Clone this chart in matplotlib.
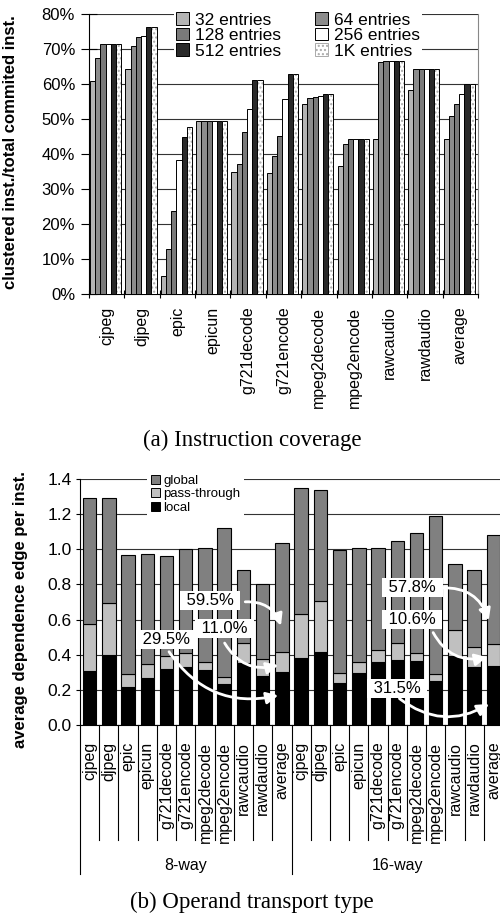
import numpy as np
import matplotlib
matplotlib.use('Agg')
import matplotlib.pyplot as plt
import matplotlib.transforms as mtransforms
from matplotlib.patches import Patch

plt.rcParams['font.family'] = ['Liberation Sans', 'DejaVu Sans']

# (a) instruction coverage, % of committed instructions
benchmarks = ['cjpeg', 'djpeg', 'epic', 'epicun', 'g721decode', 'g721encode',
              'mpeg2decode', 'mpeg2encode', 'rawcaudio', 'rawdaudio', 'average']
sizes = ['32 entries', '64 entries', '128 entries', '256 entries', '512 entries', '1K entries']
cov_32 = [61.0, 64.4, 5.2, 49.3, 35.0, 34.7, 54.2, 36.6, 44.2, 58.2, 44.2]
cov_64 = [67.3, 70.8, 12.8, 49.3, 37.2, 39.3, 55.9, 42.9, 66.4, 64.4, 50.8]
cov_128 = [71.5, 73.3, 23.8, 49.3, 46.4, 45.1, 56.3, 44.2, 66.7, 64.4, 54.3]
cov_256 = [71.5, 73.6, 38.2, 49.3, 53.0, 55.6, 56.7, 44.4, 66.7, 64.4, 57.2]
cov_512 = [71.5, 76.2, 44.9, 49.3, 61.1, 62.8, 57.2, 44.4, 66.7, 64.4, 60.0]
cov_1k = [71.5, 76.2, 47.8, 49.3, 61.1, 62.8, 57.2, 44.4, 66.7, 64.4, 60.0]

# (b) operand transport type, 8-way then 16-way
machines = ['8-way', '16-way']
local = [0.31, 0.40, 0.216, 0.268, 0.32, 0.328, 0.313, 0.231, 0.351, 0.281, 0.30,
         0.383, 0.416, 0.237, 0.294, 0.359, 0.370, 0.364, 0.250, 0.395, 0.332, 0.338]
local_pass = [0.575, 0.696, 0.288, 0.349, 0.39, 0.41, 0.36, 0.273, 0.469, 0.374, 0.416,
              0.630, 0.704, 0.294, 0.357, 0.429, 0.465, 0.408, 0.292, 0.541, 0.446, 0.459]
total = [1.294, 1.294, 0.970, 0.975, 0.964, 1.004, 1.009, 1.123, 0.882, 0.800, 1.034,
         1.351, 1.338, 0.996, 1.008, 1.008, 1.047, 1.091, 1.192, 0.918, 0.880, 1.084]
passthrough = np.array(local_pass) - np.array(local)
global_ = np.array(total) - np.array(local_pass)

# annotation: label, text pos, arrow start, arrow end, curvature
notes = [
    ('59.5%', (6.25, 0.711), (7.95, 0.70), (10.0, 0.55), -0.4),
    ('11.0%', (7.03, 0.552), (6.95, 0.48), (9.95, 0.345), 0.4),
    ('29.5%', (4.0, 0.484), (4.05, 0.43), (9.95, 0.172), 0.35),
    ('57.8%', (16.8, 0.785), (18.2, 0.78), (20.8, 0.58), -0.4),
    ('10.6%', (16.77, 0.603), (17.8, 0.54), (20.8, 0.39), 0.4),
    ('31.5%', (16.0, 0.21), (16.0, 0.16), (20.9, 0.128), 0.35),
]

fig = plt.figure(figsize=(5, 9.14), dpi=100)

# ---------------- (a) ----------------
ax1 = fig.add_axes([89/500, 1-294/914, 389/500, 280/914])
cov = [cov_32, cov_64, cov_128, cov_256, cov_512, cov_1k]
fills = ['#b4b4b4', '#8c8c8c', '#7a7a7a', 'white', '#2a2a2a', 'white']
x = np.arange(len(benchmarks))
w = 0.147
for j, vals in enumerate(cov):
    pos = x + 0.47 + (j - 2.5) * w
    if j == 5:
        ax1.bar(pos, vals, w, color='white', edgecolor='#aaaaaa', hatch='....', lw=0, zorder=3)
        ax1.bar(pos, vals, w, facecolor='none', edgecolor='black', lw=0.7, zorder=3)
    else:
        ax1.bar(pos, vals, w, color=fills[j], edgecolor='black', lw=0.7, zorder=3)

ax1.set_xlim(0, len(benchmarks))
ax1.set_ylim(0, 80)
ax1.set_yticks(np.arange(0, 81, 10))
ax1.set_yticklabels([f'{v}%' for v in range(0, 81, 10)], fontsize=12)
ax1.set_xticks(x + 0.5)
ax1.set_xticklabels(benchmarks, rotation=90, fontsize=11.5)
ax1.set_xticks(np.arange(len(benchmarks) + 1), minor=True)
ax1.tick_params(axis='x', which='major', length=0, pad=9)
ax1.tick_params(axis='x', which='minor', direction='inout', length=6, width=0.8)
ax1.tick_params(axis='y', direction='inout', length=12, width=0.8, pad=4)
ax1.yaxis.grid(True, color='#333333', lw=0.8)
ax1.set_axisbelow(True)
ax1.spines['top'].set_visible(False)
ax1.spines['right'].set_color('#888888')
ax1.set_ylabel('clustered inst./total commited inst.', fontsize=12, fontweight='bold')
ax1.yaxis.set_label_coords(-0.1825, 0.507)

h = [Patch(facecolor=fills[k], edgecolor='black', lw=0.7) for k in range(5)]
h.append(Patch(facecolor='white', edgecolor='#aaaaaa', hatch='....', lw=0.7))
order = [0, 2, 4, 1, 3, 5]
leg1 = ax1.legend([h[k] for k in order], [sizes[k] for k in order], ncol=2,
                  loc='upper left', bbox_to_anchor=(165/500, 1-1/914),
                  bbox_transform=fig.transFigure, fontsize=12.5, frameon=True,
                  facecolor='white', edgecolor='none', framealpha=1, fancybox=False,
                  handlelength=0.75, handleheight=0.75, handletextpad=0.3,
                  labelspacing=0.0, columnspacing=2.0, borderpad=0.15)
leg1.set_zorder(5)

# ---------------- (b) ----------------
ax2 = fig.add_axes([80/500, 1-725/914, 423/500, 246/914])
xb = np.arange(len(total))
ax2.bar(xb, local, 0.7, color='black', edgecolor='black', lw=0.8, zorder=3)
ax2.bar(xb, passthrough, 0.7, bottom=local, color='#c0c0c0', edgecolor='black', lw=0.8, zorder=3)
ax2.bar(xb, global_, 0.7, bottom=local_pass, color='#808080', edgecolor='black', lw=0.8, zorder=3)

ax2.set_xlim(-0.5, len(total) - 0.5)
ax2.set_ylim(0, 1.4)
ax2.set_yticks(np.arange(0, 1.41, 0.2))
ax2.set_yticklabels([f'{v:.1f}' for v in np.arange(0, 1.41, 0.2)], fontsize=12.5)
ax2.set_xticks(xb)
ax2.set_xticklabels(benchmarks * 2, rotation=90, fontsize=11.5)
ax2.tick_params(axis='x', length=0, pad=12)
ax2.tick_params(axis='y', direction='out', length=3, width=0.8, pad=3)
ax2.yaxis.grid(True, color='#333333', lw=0.8)
ax2.set_axisbelow(True)
for s in ['top', 'right']:
    ax2.spines[s].set_visible(False)
ax2.set_ylabel('average dependence edge per inst.', fontsize=12, fontweight='bold')
ax2.yaxis.set_label_coords(-0.123, 0.47)

trans = mtransforms.blended_transform_factory(ax2.transData, ax2.transAxes)
n = len(benchmarks)
for b in np.arange(len(total) + 1) - 0.5:
    bottom = -0.606 if (b + 0.5) % n == 0 else -0.467
    ax2.plot([b, b], [0, bottom], transform=trans, color='black', lw=0.8, clip_on=False)
for g, name in enumerate(machines):
    ax2.text(g * n + (n - 1) / 2, -0.57, name, transform=trans, ha='center', va='center',
             fontsize=11.5)

hb = [Patch(facecolor='#808080', edgecolor='black', lw=0.7),
      Patch(facecolor='#c0c0c0', edgecolor='black', lw=0.7),
      Patch(facecolor='black', edgecolor='black', lw=0.7)]
leg2 = ax2.legend(hb, ['global', 'pass-through', 'local'], loc='upper left',
                  bbox_to_anchor=(140/500, 1-464/914), bbox_transform=fig.transFigure,
                  fontsize=9.5, frameon=True, facecolor='white', edgecolor='none',
                  framealpha=1, fancybox=False, handlelength=0.7, handleheight=0.7,
                  handletextpad=0.25, labelspacing=0.1, borderpad=0.3)
leg2.set_zorder(5)

for label, tpos, start, end, rad in notes:
    ax2.annotate('', xy=end, xytext=start, zorder=6,
                 arrowprops=dict(arrowstyle='-|>,head_length=0.7,head_width=0.35',
                                 color='white', lw=2,
                                 connectionstyle=f'arc3,rad={rad}'))
    ax2.text(tpos[0], tpos[1], ' ' + label + ' ', ha='center', va='center', fontsize=12,
             zorder=7, bbox=dict(boxstyle='square,pad=0.12', facecolor='white', edgecolor='none'))

fig.text(252/500, 1-440/914, '(a) Instruction coverage', ha='center', va='center',
         fontsize=16.5, family='Liberation Serif')
fig.text(252/500, 1-902/914, '(b) Operand transport type', ha='center', va='center',
         fontsize=16.5, family='Liberation Serif')

fig.savefig('out.png', dpi=100)
